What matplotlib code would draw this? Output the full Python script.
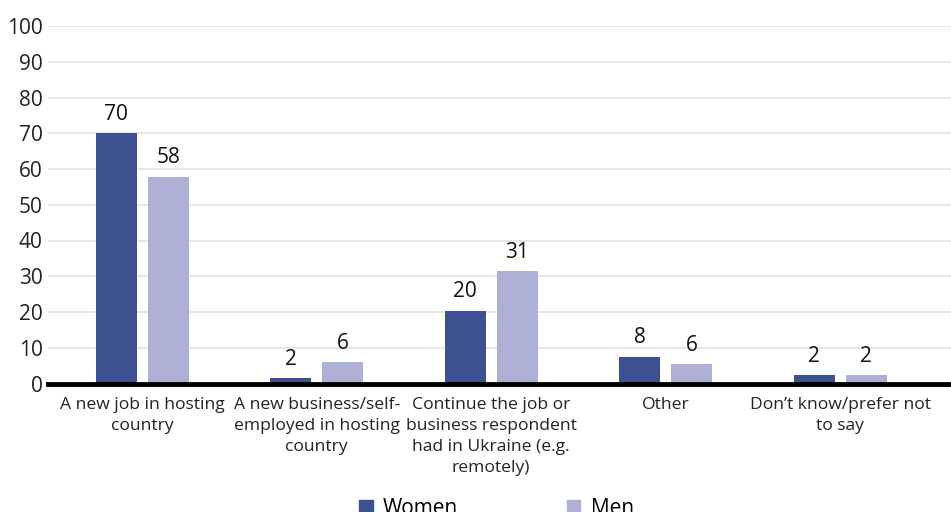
import numpy as np
import matplotlib.pyplot as plt
from matplotlib.patches import Patch

plt.rcParams['font.family'] = ['Open Sans', 'DejaVu Sans']

# data
categories = ['A new job in hosting\ncountry',
              'A new business/self-\nemployed in hosting\ncountry',
              'Continue the job or\nbusiness respondent\nhad in Ukraine (e.g.\nremotely)',
              'Other',
              'Don\u2019t know/prefer not\nto say']
women = [70.0, 1.5, 20.4, 7.5, 2.4]
men = [57.9, 5.9, 31.4, 5.5, 2.4]
women_lbl = ['70', '2', '20', '8', '2']
men_lbl = ['58', '6', '31', '6', '2']
yticks = list(range(0, 101, 10))

c_women = '#3d508f'
c_men = '#aeafd4'

fig = plt.figure(figsize=(9.51, 5.12), dpi=100)
ax = fig.add_axes([48 / 951, 1 - 383.5 / 512, 1 - 48 / 951 + 0.01, 357.5 / 512])

x = np.arange(len(categories))
w = 0.235
off = 0.149
b1 = ax.bar(x - off, women, w, color=c_women, zorder=3)
b2 = ax.bar(x + off, men, w, color=c_men, zorder=3)

for bars, lbls in ((b1, women_lbl), (b2, men_lbl)):
    for r, t in zip(bars, lbls):
        ax.annotate(t, (r.get_x() + r.get_width() / 2, r.get_height()),
                    xytext=(0, 6), textcoords='offset points',
                    ha='center', va='bottom', fontsize=15, color='#111111')

ax.set_ylim(0, 100)
ax.set_xlim(-0.54, 4.69)
ax.set_yticks(yticks)
ax.set_xticks(x)
ax.set_xticklabels(categories, fontsize=12.6, linespacing=1.4)
ax.tick_params(axis='y', length=0, pad=4, labelsize=15, labelcolor='#222222')
ax.tick_params(axis='x', length=0, pad=10, labelcolor='#222222')
ax.grid(axis='y', color='#e2e2e2', linewidth=1.2, zorder=0)
for s in ['left', 'right', 'top']:
    ax.spines[s].set_visible(False)
ax.spines['bottom'].set_linewidth(3.5)
ax.spines['bottom'].set_color('black')
ax.spines['bottom'].set_zorder(4)

handles = [Patch(color=c_women, label='Women'), Patch(color=c_men, label='Men')]
fig.legend(handles=handles, loc='upper center', bbox_to_anchor=(0.522, 0.047),
           ncol=2, frameon=False, fontsize=15, handlelength=0.65, handleheight=0.65,
           handletextpad=0.5, columnspacing=5.2, borderpad=0)

fig.savefig('out.png', dpi=100)
